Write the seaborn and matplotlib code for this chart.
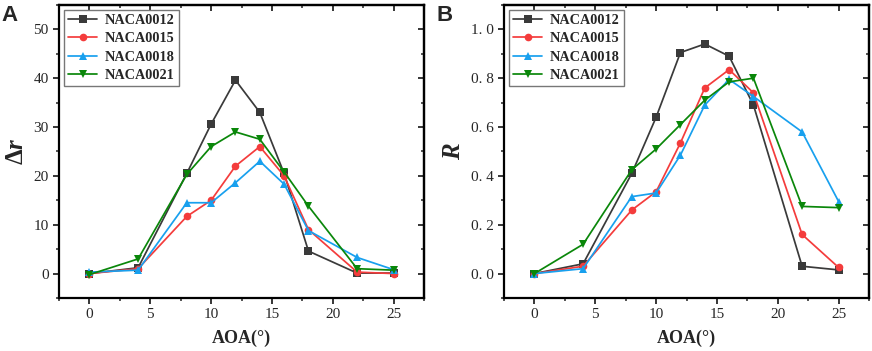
import matplotlib.pyplot as plt
import matplotlib.ticker as mticker
import pandas as pd
import seaborn as sns

###############################################################################

aoa = [0, 4, 8, 10, 12, 14, 16, 18, 22, 25]
airfoils = ['NACA0012', 'NACA0015', 'NACA0018', 'NACA0021']

dr_0012 = [0.0, 1.2, 20.5, 30.6, 39.6, 33.0, 20.5, 4.6, 0.1, 0.1]
dr_0015 = [0.0, 1.0, 11.7, 15.0, 22.0, 26.0, 20.0, 9.0, 0.3, 0.0]
dr_0018 = [0.3, 0.7, 14.5, 14.5, 18.6, 23.0, 18.3, 8.8, 3.3, 0.8]
dr_0021 = [-0.2, 3.0, 20.3, 26.0, 29.0, 27.5, 20.8, 13.8, 1.0, 0.7]

r_0012 = [0.0, 0.04, 0.41, 0.64, 0.905, 0.94, 0.89, 0.69, 0.03, 0.015]
r_0015 = [0.0, 0.03, 0.26, 0.335, 0.535, 0.76, 0.835, 0.74, 0.16, 0.025]
r_0018 = [0.0, 0.02, 0.315, 0.33, 0.485, 0.69, 0.795, 0.725, 0.58, 0.295]
r_0021 = [0.0, 0.12, 0.425, 0.51, 0.61, 0.71, 0.785, 0.80, 0.275, 0.27]

colors = ['#3a3a3a', '#f43c3c', '#18a0ee', '#0a870a']
markers = ['s', 'o', '^', 'v']

###############################################################################

def long_frame(series):
    rows = []
    for name, vals in zip(airfoils, series):
        for a, v in zip(aoa, vals):
            rows.append({'AOA': a, 'val': v, 'airfoil': name})
    return pd.DataFrame(rows)

###############################################################################

def draw_panel(ax, df, ylim, yticks, ylabel, yfmt):
    sns.lineplot(data=df, x='AOA', y='val', hue='airfoil', style='airfoil',
                 palette=colors, markers=markers, dashes=False, ax=ax,
                 linewidth=1.25, markersize=5.5, markeredgewidth=0)

    ax.set_xlim(-2.5, 27.5)
    ax.set_ylim(*ylim)
    ax.set_xticks([0, 5, 10, 15, 20, 25])
    ax.set_yticks(yticks)
    ax.xaxis.set_minor_locator(mticker.MultipleLocator(2.5))
    ax.yaxis.set_minor_locator(mticker.AutoMinorLocator(2))
    ax.yaxis.set_major_formatter(mticker.FuncFormatter(yfmt))

    ax.tick_params(which='major', direction='out', length=4, width=1.3,
                   labelsize=11)
    ax.tick_params(which='minor', direction='out', length=2.5, width=1.1)
    for lab in ax.get_xticklabels() + ax.get_yticklabels():
        lab.set_family('Liberation Serif')

    # mirrored ticks pointing in, like Origin
    top = ax.secondary_xaxis('top')
    top.set_xticks([0, 5, 10, 15, 20, 25])
    top.xaxis.set_minor_locator(mticker.MultipleLocator(2.5))
    top.tick_params(which='major', direction='in', length=4, width=1.3,
                    labeltop=False)
    top.tick_params(which='minor', direction='in', length=2.5, width=1.1)
    right = ax.secondary_yaxis('right')
    right.set_yticks(yticks)
    right.yaxis.set_minor_locator(mticker.AutoMinorLocator(2))
    right.tick_params(which='major', direction='in', length=4, width=1.3,
                      labelright=False)
    right.tick_params(which='minor', direction='in', length=2.5, width=1.1)
    for sp in list(ax.spines.values()) + [top.spines['top'],
                                          right.spines['right']]:
        sp.set_linewidth(1.6)
        sp.set_color('black')

    ax.set_xlabel('AOA(°)', fontsize=13, fontweight='bold',
                  family='Liberation Serif', labelpad=6)
    ax.set_ylabel(ylabel, fontsize=18, labelpad=4)

    leg = ax.legend(loc='upper left', frameon=True, fancybox=False,
                    edgecolor='#777777', framealpha=1, handlelength=2.0,
                    borderaxespad=0.35, borderpad=0.3, labelspacing=0.36,
                    handletextpad=0.55,
                    prop={'family': 'Liberation Serif', 'weight': 'bold',
                          'size': 10.3})
    leg.get_frame().set_linewidth(1.0)

    ax.grid(False)

###############################################################################

if __name__ == "__main__":

    sns.set_theme(style='ticks')
    plt.rcParams['mathtext.fontset'] = 'custom'
    plt.rcParams['mathtext.rm'] = 'Liberation Serif'
    plt.rcParams['mathtext.bf'] = 'Liberation Serif:bold'
    plt.rcParams['mathtext.it'] = 'Liberation Serif:italic:bold'

    fig = plt.figure(figsize=(8.72, 3.51), dpi=100)
    axA = fig.add_axes([0.0677, 0.151, 0.4186, 0.835])
    axB = fig.add_axes([0.578, 0.151, 0.4186, 0.835])

    draw_panel(axA, long_frame([dr_0012, dr_0015, dr_0018, dr_0021]),
               (-5, 55), [0, 10, 20, 30, 40, 50],
               r'$\mathbf{\Delta}\mathit{r}$',
               lambda v, p: '%d' % v)
    draw_panel(axB, long_frame([r_0012, r_0015, r_0018, r_0021]),
               (-0.1, 1.1), [0, 0.2, 0.4, 0.6, 0.8, 1.0], r'$\mathit{R}$',
               lambda v, p: ('%.1f' % v).replace('.', '. '))

    fig.text(0.002, 0.985, 'A', fontsize=16, fontweight='bold',
             family='Liberation Sans', va='top', ha='left')
    fig.text(0.5, 0.985, 'B', fontsize=16, fontweight='bold',
             family='Liberation Sans', va='top', ha='left')

    plt.savefig('out.png', dpi=100)
